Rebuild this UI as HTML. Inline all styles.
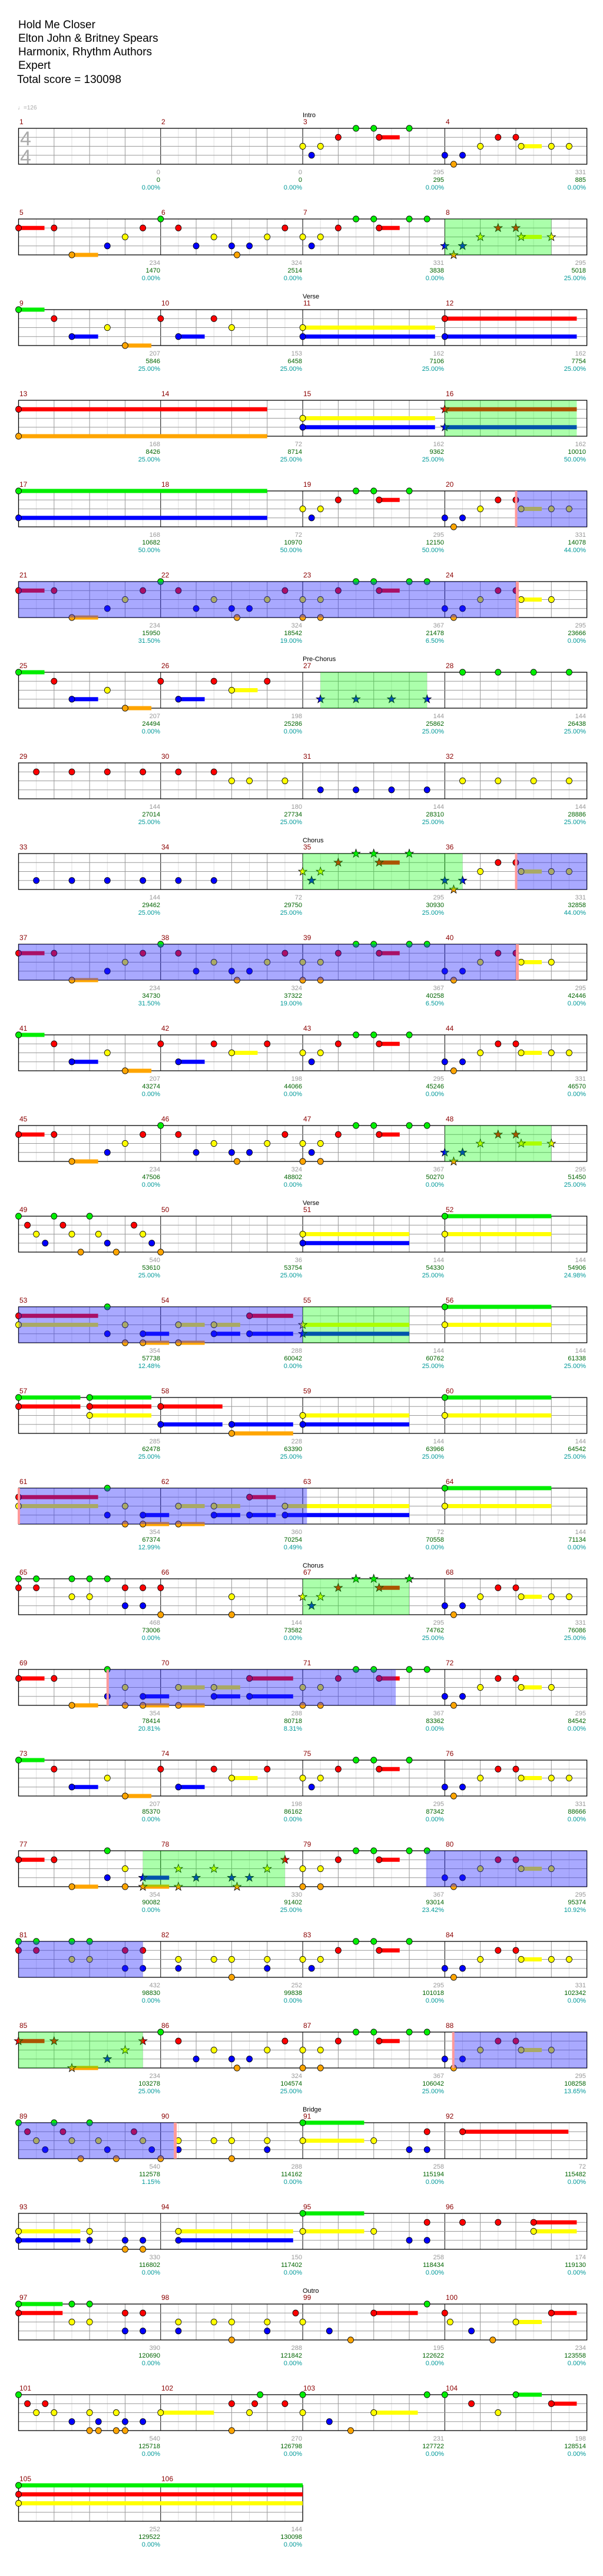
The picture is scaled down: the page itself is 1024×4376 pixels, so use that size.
<!DOCTYPE html>
<html><head><meta charset="utf-8">
<style>
html,body{margin:0;padding:0;background:#fff;}
svg{display:block;}
text{font-family:"Liberation Sans",sans-serif;}
.t{font-size:19px;fill:#000;}
.mn{font-size:12px;fill:#8b0000;}
.sec{font-size:11px;fill:#000;}
.a{font-size:11px;fill:#999;text-anchor:end;}
.b{font-size:11px;fill:#006400;text-anchor:end;}
.c{font-size:11px;fill:#009999;text-anchor:end;}
</style></head><body>
<svg id="s" xmlns="http://www.w3.org/2000/svg" width="1024" height="4376" viewBox="0 0 1024 4376">
<rect width="1024" height="4376" fill="#fff"/>
<g id="gfx"></g>
<g id="txt">
<text class="t" x="31" y="48">Hold Me Closer</text>
<text class="t" x="31" y="71">Elton John &amp; Britney Spears</text>
<text class="t" x="31" y="94">Harmonix, Rhythm Authors</text>
<text class="t" x="31" y="117">Expert</text>
<text class="t" x="29" y="141">Total score = 130098</text>
<text x="30" y="186" style="font-size:10px;fill:#aaa">♩=126</text>
<text x="34" y="247" style="font-size:34px;fill:#aaa">4</text>
<text x="34" y="278" style="font-size:34px;fill:#aaa">4</text>
<text class="sec" x="514" y="199">Intro</text>
<text class="sec" x="514" y="507">Verse</text>
<text class="sec" x="514" y="1123">Pre-Chorus</text>
<text class="sec" x="514" y="1431">Chorus</text>
<text class="sec" x="514" y="2047">Verse</text>
<text class="sec" x="514" y="2663">Chorus</text>
<text class="sec" x="514" y="3587">Bridge</text>
<text class="sec" x="514" y="3895">Outro</text>

<g transform="translate(0,0)"><text class="mn" x="33" y="211">1</text><text class="mn" x="274" y="211">2</text><text class="mn" x="515" y="211">3</text><text class="mn" x="757" y="211">4</text>
<text class="a" x="272" y="296">0</text><text class="b" x="272" y="309">0</text><text class="c" x="272" y="322">0.00%</text>
<text class="a" x="513" y="296">0</text><text class="b" x="513" y="309">0</text><text class="c" x="513" y="322">0.00%</text>
<text class="a" x="754" y="296">295</text><text class="b" x="754" y="309">295</text><text class="c" x="754" y="322">0.00%</text>
<text class="a" x="995" y="296">331</text><text class="b" x="995" y="309">885</text><text class="c" x="995" y="322">0.00%</text></g>

<g transform="translate(0,154)"><text class="mn" x="33" y="211">5</text><text class="mn" x="274" y="211">6</text><text class="mn" x="515" y="211">7</text><text class="mn" x="757" y="211">8</text>
<text class="a" x="272" y="296">234</text><text class="b" x="272" y="309">1470</text><text class="c" x="272" y="322">0.00%</text>
<text class="a" x="513" y="296">324</text><text class="b" x="513" y="309">2514</text><text class="c" x="513" y="322">0.00%</text>
<text class="a" x="754" y="296">331</text><text class="b" x="754" y="309">3838</text><text class="c" x="754" y="322">0.00%</text>
<text class="a" x="995" y="296">295</text><text class="b" x="995" y="309">5018</text><text class="c" x="995" y="322">25.00%</text></g>

<g transform="translate(0,308)"><text class="mn" x="33" y="211">9</text><text class="mn" x="274" y="211">10</text><text class="mn" x="515" y="211">11</text><text class="mn" x="757" y="211">12</text>
<text class="a" x="272" y="296">207</text><text class="b" x="272" y="309">5846</text><text class="c" x="272" y="322">25.00%</text>
<text class="a" x="513" y="296">153</text><text class="b" x="513" y="309">6458</text><text class="c" x="513" y="322">25.00%</text>
<text class="a" x="754" y="296">162</text><text class="b" x="754" y="309">7106</text><text class="c" x="754" y="322">25.00%</text>
<text class="a" x="995" y="296">162</text><text class="b" x="995" y="309">7754</text><text class="c" x="995" y="322">25.00%</text></g>

<g transform="translate(0,462)"><text class="mn" x="33" y="211">13</text><text class="mn" x="274" y="211">14</text><text class="mn" x="515" y="211">15</text><text class="mn" x="757" y="211">16</text>
<text class="a" x="272" y="296">168</text><text class="b" x="272" y="309">8426</text><text class="c" x="272" y="322">25.00%</text>
<text class="a" x="513" y="296">72</text><text class="b" x="513" y="309">8714</text><text class="c" x="513" y="322">25.00%</text>
<text class="a" x="754" y="296">162</text><text class="b" x="754" y="309">9362</text><text class="c" x="754" y="322">25.00%</text>
<text class="a" x="995" y="296">162</text><text class="b" x="995" y="309">10010</text><text class="c" x="995" y="322">50.00%</text></g>

<g transform="translate(0,616)"><text class="mn" x="33" y="211">17</text><text class="mn" x="274" y="211">18</text><text class="mn" x="515" y="211">19</text><text class="mn" x="757" y="211">20</text>
<text class="a" x="272" y="296">168</text><text class="b" x="272" y="309">10682</text><text class="c" x="272" y="322">50.00%</text>
<text class="a" x="513" y="296">72</text><text class="b" x="513" y="309">10970</text><text class="c" x="513" y="322">50.00%</text>
<text class="a" x="754" y="296">295</text><text class="b" x="754" y="309">12150</text><text class="c" x="754" y="322">50.00%</text>
<text class="a" x="995" y="296">331</text><text class="b" x="995" y="309">14078</text><text class="c" x="995" y="322">44.00%</text></g>

<g transform="translate(0,770)"><text class="mn" x="33" y="211">21</text><text class="mn" x="274" y="211">22</text><text class="mn" x="515" y="211">23</text><text class="mn" x="757" y="211">24</text>
<text class="a" x="272" y="296">234</text><text class="b" x="272" y="309">15950</text><text class="c" x="272" y="322">31.50%</text>
<text class="a" x="513" y="296">324</text><text class="b" x="513" y="309">18542</text><text class="c" x="513" y="322">19.00%</text>
<text class="a" x="754" y="296">367</text><text class="b" x="754" y="309">21478</text><text class="c" x="754" y="322">6.50%</text>
<text class="a" x="995" y="296">295</text><text class="b" x="995" y="309">23666</text><text class="c" x="995" y="322">0.00%</text></g>

<g transform="translate(0,924)"><text class="mn" x="33" y="211">25</text><text class="mn" x="274" y="211">26</text><text class="mn" x="515" y="211">27</text><text class="mn" x="757" y="211">28</text>
<text class="a" x="272" y="296">207</text><text class="b" x="272" y="309">24494</text><text class="c" x="272" y="322">0.00%</text>
<text class="a" x="513" y="296">198</text><text class="b" x="513" y="309">25286</text><text class="c" x="513" y="322">0.00%</text>
<text class="a" x="754" y="296">144</text><text class="b" x="754" y="309">25862</text><text class="c" x="754" y="322">25.00%</text>
<text class="a" x="995" y="296">144</text><text class="b" x="995" y="309">26438</text><text class="c" x="995" y="322">25.00%</text></g>

<g transform="translate(0,1078)"><text class="mn" x="33" y="211">29</text><text class="mn" x="274" y="211">30</text><text class="mn" x="515" y="211">31</text><text class="mn" x="757" y="211">32</text>
<text class="a" x="272" y="296">144</text><text class="b" x="272" y="309">27014</text><text class="c" x="272" y="322">25.00%</text>
<text class="a" x="513" y="296">180</text><text class="b" x="513" y="309">27734</text><text class="c" x="513" y="322">25.00%</text>
<text class="a" x="754" y="296">144</text><text class="b" x="754" y="309">28310</text><text class="c" x="754" y="322">25.00%</text>
<text class="a" x="995" y="296">144</text><text class="b" x="995" y="309">28886</text><text class="c" x="995" y="322">25.00%</text></g>

<g transform="translate(0,1232)"><text class="mn" x="33" y="211">33</text><text class="mn" x="274" y="211">34</text><text class="mn" x="515" y="211">35</text><text class="mn" x="757" y="211">36</text>
<text class="a" x="272" y="296">144</text><text class="b" x="272" y="309">29462</text><text class="c" x="272" y="322">25.00%</text>
<text class="a" x="513" y="296">72</text><text class="b" x="513" y="309">29750</text><text class="c" x="513" y="322">25.00%</text>
<text class="a" x="754" y="296">295</text><text class="b" x="754" y="309">30930</text><text class="c" x="754" y="322">25.00%</text>
<text class="a" x="995" y="296">331</text><text class="b" x="995" y="309">32858</text><text class="c" x="995" y="322">44.00%</text></g>

<g transform="translate(0,1386)"><text class="mn" x="33" y="211">37</text><text class="mn" x="274" y="211">38</text><text class="mn" x="515" y="211">39</text><text class="mn" x="757" y="211">40</text>
<text class="a" x="272" y="296">234</text><text class="b" x="272" y="309">34730</text><text class="c" x="272" y="322">31.50%</text>
<text class="a" x="513" y="296">324</text><text class="b" x="513" y="309">37322</text><text class="c" x="513" y="322">19.00%</text>
<text class="a" x="754" y="296">367</text><text class="b" x="754" y="309">40258</text><text class="c" x="754" y="322">6.50%</text>
<text class="a" x="995" y="296">295</text><text class="b" x="995" y="309">42446</text><text class="c" x="995" y="322">0.00%</text></g>

<g transform="translate(0,1540)"><text class="mn" x="33" y="211">41</text><text class="mn" x="274" y="211">42</text><text class="mn" x="515" y="211">43</text><text class="mn" x="757" y="211">44</text>
<text class="a" x="272" y="296">207</text><text class="b" x="272" y="309">43274</text><text class="c" x="272" y="322">0.00%</text>
<text class="a" x="513" y="296">198</text><text class="b" x="513" y="309">44066</text><text class="c" x="513" y="322">0.00%</text>
<text class="a" x="754" y="296">295</text><text class="b" x="754" y="309">45246</text><text class="c" x="754" y="322">0.00%</text>
<text class="a" x="995" y="296">331</text><text class="b" x="995" y="309">46570</text><text class="c" x="995" y="322">0.00%</text></g>

<g transform="translate(0,1694)"><text class="mn" x="33" y="211">45</text><text class="mn" x="274" y="211">46</text><text class="mn" x="515" y="211">47</text><text class="mn" x="757" y="211">48</text>
<text class="a" x="272" y="296">234</text><text class="b" x="272" y="309">47506</text><text class="c" x="272" y="322">0.00%</text>
<text class="a" x="513" y="296">324</text><text class="b" x="513" y="309">48802</text><text class="c" x="513" y="322">0.00%</text>
<text class="a" x="754" y="296">367</text><text class="b" x="754" y="309">50270</text><text class="c" x="754" y="322">0.00%</text>
<text class="a" x="995" y="296">295</text><text class="b" x="995" y="309">51450</text><text class="c" x="995" y="322">25.00%</text></g>

<g transform="translate(0,1848)"><text class="mn" x="33" y="211">49</text><text class="mn" x="274" y="211">50</text><text class="mn" x="515" y="211">51</text><text class="mn" x="757" y="211">52</text>
<text class="a" x="272" y="296">540</text><text class="b" x="272" y="309">53610</text><text class="c" x="272" y="322">25.00%</text>
<text class="a" x="513" y="296">36</text><text class="b" x="513" y="309">53754</text><text class="c" x="513" y="322">25.00%</text>
<text class="a" x="754" y="296">144</text><text class="b" x="754" y="309">54330</text><text class="c" x="754" y="322">25.00%</text>
<text class="a" x="995" y="296">144</text><text class="b" x="995" y="309">54906</text><text class="c" x="995" y="322">24.98%</text></g>

<g transform="translate(0,2002)"><text class="mn" x="33" y="211">53</text><text class="mn" x="274" y="211">54</text><text class="mn" x="515" y="211">55</text><text class="mn" x="757" y="211">56</text>
<text class="a" x="272" y="296">354</text><text class="b" x="272" y="309">57738</text><text class="c" x="272" y="322">12.48%</text>
<text class="a" x="513" y="296">288</text><text class="b" x="513" y="309">60042</text><text class="c" x="513" y="322">0.00%</text>
<text class="a" x="754" y="296">144</text><text class="b" x="754" y="309">60762</text><text class="c" x="754" y="322">25.00%</text>
<text class="a" x="995" y="296">144</text><text class="b" x="995" y="309">61338</text><text class="c" x="995" y="322">25.00%</text></g>

<g transform="translate(0,2156)"><text class="mn" x="33" y="211">57</text><text class="mn" x="274" y="211">58</text><text class="mn" x="515" y="211">59</text><text class="mn" x="757" y="211">60</text>
<text class="a" x="272" y="296">285</text><text class="b" x="272" y="309">62478</text><text class="c" x="272" y="322">25.00%</text>
<text class="a" x="513" y="296">228</text><text class="b" x="513" y="309">63390</text><text class="c" x="513" y="322">25.00%</text>
<text class="a" x="754" y="296">144</text><text class="b" x="754" y="309">63966</text><text class="c" x="754" y="322">25.00%</text>
<text class="a" x="995" y="296">144</text><text class="b" x="995" y="309">64542</text><text class="c" x="995" y="322">25.00%</text></g>

<g transform="translate(0,2310)"><text class="mn" x="33" y="211">61</text><text class="mn" x="274" y="211">62</text><text class="mn" x="515" y="211">63</text><text class="mn" x="757" y="211">64</text>
<text class="a" x="272" y="296">354</text><text class="b" x="272" y="309">67374</text><text class="c" x="272" y="322">12.99%</text>
<text class="a" x="513" y="296">360</text><text class="b" x="513" y="309">70254</text><text class="c" x="513" y="322">0.49%</text>
<text class="a" x="754" y="296">72</text><text class="b" x="754" y="309">70558</text><text class="c" x="754" y="322">0.00%</text>
<text class="a" x="995" y="296">144</text><text class="b" x="995" y="309">71134</text><text class="c" x="995" y="322">0.00%</text></g>

<g transform="translate(0,2464)"><text class="mn" x="33" y="211">65</text><text class="mn" x="274" y="211">66</text><text class="mn" x="515" y="211">67</text><text class="mn" x="757" y="211">68</text>
<text class="a" x="272" y="296">468</text><text class="b" x="272" y="309">73006</text><text class="c" x="272" y="322">0.00%</text>
<text class="a" x="513" y="296">144</text><text class="b" x="513" y="309">73582</text><text class="c" x="513" y="322">0.00%</text>
<text class="a" x="754" y="296">295</text><text class="b" x="754" y="309">74762</text><text class="c" x="754" y="322">25.00%</text>
<text class="a" x="995" y="296">331</text><text class="b" x="995" y="309">76086</text><text class="c" x="995" y="322">25.00%</text></g>

<g transform="translate(0,2618)"><text class="mn" x="33" y="211">69</text><text class="mn" x="274" y="211">70</text><text class="mn" x="515" y="211">71</text><text class="mn" x="757" y="211">72</text>
<text class="a" x="272" y="296">354</text><text class="b" x="272" y="309">78414</text><text class="c" x="272" y="322">20.81%</text>
<text class="a" x="513" y="296">288</text><text class="b" x="513" y="309">80718</text><text class="c" x="513" y="322">8.31%</text>
<text class="a" x="754" y="296">367</text><text class="b" x="754" y="309">83362</text><text class="c" x="754" y="322">0.00%</text>
<text class="a" x="995" y="296">295</text><text class="b" x="995" y="309">84542</text><text class="c" x="995" y="322">0.00%</text></g>

<g transform="translate(0,2772)"><text class="mn" x="33" y="211">73</text><text class="mn" x="274" y="211">74</text><text class="mn" x="515" y="211">75</text><text class="mn" x="757" y="211">76</text>
<text class="a" x="272" y="296">207</text><text class="b" x="272" y="309">85370</text><text class="c" x="272" y="322">0.00%</text>
<text class="a" x="513" y="296">198</text><text class="b" x="513" y="309">86162</text><text class="c" x="513" y="322">0.00%</text>
<text class="a" x="754" y="296">295</text><text class="b" x="754" y="309">87342</text><text class="c" x="754" y="322">0.00%</text>
<text class="a" x="995" y="296">331</text><text class="b" x="995" y="309">88666</text><text class="c" x="995" y="322">0.00%</text></g>

<g transform="translate(0,2926)"><text class="mn" x="33" y="211">77</text><text class="mn" x="274" y="211">78</text><text class="mn" x="515" y="211">79</text><text class="mn" x="757" y="211">80</text>
<text class="a" x="272" y="296">354</text><text class="b" x="272" y="309">90082</text><text class="c" x="272" y="322">0.00%</text>
<text class="a" x="513" y="296">330</text><text class="b" x="513" y="309">91402</text><text class="c" x="513" y="322">25.00%</text>
<text class="a" x="754" y="296">367</text><text class="b" x="754" y="309">93014</text><text class="c" x="754" y="322">23.42%</text>
<text class="a" x="995" y="296">295</text><text class="b" x="995" y="309">95374</text><text class="c" x="995" y="322">10.92%</text></g>

<g transform="translate(0,3080)"><text class="mn" x="33" y="211">81</text><text class="mn" x="274" y="211">82</text><text class="mn" x="515" y="211">83</text><text class="mn" x="757" y="211">84</text>
<text class="a" x="272" y="296">432</text><text class="b" x="272" y="309">98830</text><text class="c" x="272" y="322">0.00%</text>
<text class="a" x="513" y="296">252</text><text class="b" x="513" y="309">99838</text><text class="c" x="513" y="322">0.00%</text>
<text class="a" x="754" y="296">295</text><text class="b" x="754" y="309">101018</text><text class="c" x="754" y="322">0.00%</text>
<text class="a" x="995" y="296">331</text><text class="b" x="995" y="309">102342</text><text class="c" x="995" y="322">0.00%</text></g>

<g transform="translate(0,3234)"><text class="mn" x="33" y="211">85</text><text class="mn" x="274" y="211">86</text><text class="mn" x="515" y="211">87</text><text class="mn" x="757" y="211">88</text>
<text class="a" x="272" y="296">234</text><text class="b" x="272" y="309">103278</text><text class="c" x="272" y="322">25.00%</text>
<text class="a" x="513" y="296">324</text><text class="b" x="513" y="309">104574</text><text class="c" x="513" y="322">25.00%</text>
<text class="a" x="754" y="296">367</text><text class="b" x="754" y="309">106042</text><text class="c" x="754" y="322">25.00%</text>
<text class="a" x="995" y="296">295</text><text class="b" x="995" y="309">108258</text><text class="c" x="995" y="322">13.65%</text></g>

<g transform="translate(0,3388)"><text class="mn" x="33" y="211">89</text><text class="mn" x="274" y="211">90</text><text class="mn" x="515" y="211">91</text><text class="mn" x="757" y="211">92</text>
<text class="a" x="272" y="296">540</text><text class="b" x="272" y="309">112578</text><text class="c" x="272" y="322">1.15%</text>
<text class="a" x="513" y="296">288</text><text class="b" x="513" y="309">114162</text><text class="c" x="513" y="322">0.00%</text>
<text class="a" x="754" y="296">258</text><text class="b" x="754" y="309">115194</text><text class="c" x="754" y="322">0.00%</text>
<text class="a" x="995" y="296">72</text><text class="b" x="995" y="309">115482</text><text class="c" x="995" y="322">0.00%</text></g>

<g transform="translate(0,3542)"><text class="mn" x="33" y="211">93</text><text class="mn" x="274" y="211">94</text><text class="mn" x="515" y="211">95</text><text class="mn" x="757" y="211">96</text>
<text class="a" x="272" y="296">330</text><text class="b" x="272" y="309">116802</text><text class="c" x="272" y="322">0.00%</text>
<text class="a" x="513" y="296">150</text><text class="b" x="513" y="309">117402</text><text class="c" x="513" y="322">0.00%</text>
<text class="a" x="754" y="296">258</text><text class="b" x="754" y="309">118434</text><text class="c" x="754" y="322">0.00%</text>
<text class="a" x="995" y="296">174</text><text class="b" x="995" y="309">119130</text><text class="c" x="995" y="322">0.00%</text></g>

<g transform="translate(0,3696)"><text class="mn" x="33" y="211">97</text><text class="mn" x="274" y="211">98</text><text class="mn" x="515" y="211">99</text><text class="mn" x="757" y="211">100</text>
<text class="a" x="272" y="296">390</text><text class="b" x="272" y="309">120690</text><text class="c" x="272" y="322">0.00%</text>
<text class="a" x="513" y="296">288</text><text class="b" x="513" y="309">121842</text><text class="c" x="513" y="322">0.00%</text>
<text class="a" x="754" y="296">195</text><text class="b" x="754" y="309">122622</text><text class="c" x="754" y="322">0.00%</text>
<text class="a" x="995" y="296">234</text><text class="b" x="995" y="309">123558</text><text class="c" x="995" y="322">0.00%</text></g>

<g transform="translate(0,3850)"><text class="mn" x="33" y="211">101</text><text class="mn" x="274" y="211">102</text><text class="mn" x="515" y="211">103</text><text class="mn" x="757" y="211">104</text>
<text class="a" x="272" y="296">540</text><text class="b" x="272" y="309">125718</text><text class="c" x="272" y="322">0.00%</text>
<text class="a" x="513" y="296">270</text><text class="b" x="513" y="309">126798</text><text class="c" x="513" y="322">0.00%</text>
<text class="a" x="754" y="296">231</text><text class="b" x="754" y="309">127722</text><text class="c" x="754" y="322">0.00%</text>
<text class="a" x="995" y="296">198</text><text class="b" x="995" y="309">128514</text><text class="c" x="995" y="322">0.00%</text></g>

<g transform="translate(0,4004)"><text class="mn" x="33" y="211">105</text><text class="mn" x="274" y="211">106</text>
<text class="a" x="272" y="296">252</text><text class="b" x="272" y="309">129522</text><text class="c" x="272" y="322">0.00%</text>
<text class="a" x="513" y="296">144</text><text class="b" x="513" y="309">130098</text><text class="c" x="513" y="322">0.00%</text></g>
</g>
</svg>
<script>
(function(){
var NS="http://www.w3.org/2000/svg";
var gfx=document.getElementById("gfx");
var X0=31.5,S=30.16,LY=[218,233.25,248.5,263.75,279];
var COL={G:"#00ee00",R:"#ff0000",Y:"#ffff00",B:"#0000ff",O:"#ffa500"};
var LN={G:0,R:1,Y:2,B:3,O:4};
function el(n,a){var e=document.createElementNS(NS,n);for(var k in a)e.setAttribute(k,a[k]);gfx.appendChild(e);return e;}
var R5="G8 G19 G20 G22 G23 R0-1.46 R2 R7 R9 R15 R18 R20.3-21.46 R27 R28 Y6 Y11 Y14 Y16 Y17 Y26 Y28.3-29.46 Y30 B5 B10 B12 B13 B24 B25 O3-4.48 O12.3 O16 O17 O24.5";
var R10="G0-1.46 G19 G20 G22 R2 R8 R11 R14 R18 R20.3-21.46 R27 R28 Y5 Y12-13.46 Y16 Y17 Y26 Y28.3-29.46 Y30 Y31 B3-4.48 B9-10.48 B16.5 B24 B25 O6-7.48 O24.5";
var R1="G8 G19 G20 G22 G23 R0-1.46 R2 R7 R9 R15 R18 R20.3-21.46 *R27 *R28 Y6 Y11 Y14 Y16 Y17 *Y26 *Y28.3-29.46 *Y30 B5 B10 B12 B13 B16.5 *B24 *B25 O3-4.48 O12.3 *O24.5";
var rows=[
["G19 G20 G22 R18 R20.3-21.46 R27 R28 Y16 Y17 Y26 Y28.3-29.46 Y30 Y31 B16.5 B24 B25 O24.5",[],[]],
[R1,[[24,30]],[]],
["G0-1.46 R2 R8 R11 R24-31.43 Y5 Y12 Y16-23.45 B3-4.48 B9-10.48 B16-23.45 B24-31.43 O6-7.48",[],[]],
["R0-14 *R24-31.43 Y16-23.45 B16-23.45 *B24-31.43 O0-14",[[24,31.43]],[]],
["G0-14 G19 G20 G22 R18 R20.3-21.46 R27 R28 Y16 Y17 Y26 Y28.3-29.46 Y30 Y31 B0-14 B16.5 B24 B25 O24.5",[],[[28,32,1,0]]],
[R5,[],[[0,28,0,1]]],
["G0-1.46 G25 G27 G29 G31 R2 R8 R11 R14 Y5 Y12-13.46 B3-4.48 B9-10.48 *B17 *B19 *B21 *B23 O6-7.48",[[17,23]],[]],
["R1 R3 R5 R7 R9 R11 Y12 Y13 Y15 Y25 Y27 Y29 Y31 B17 B19 B21 B23",[],[]],
["B1 B3 B5 B7 B9 B11 *B16.5 *B24 *B25 *G19 *G20 *G22 *R18 *R20.3-21.46 *Y16 *Y17 *O24.5 Y26 R27 R28 Y28.3-29.46 Y30 Y31",[[16,25]],[[28,32,1,0]]],
[R5,[],[[0,28,0,1]]],
[R10,[],[]],
[R1+" O16 O17",[[24,30]],[]],
["G0 G2 G4 G24-30 R0.5 R2.5 R6.5 Y1 Y3 Y4.5 Y7 Y16-22 Y24-30 B1.5 B5 B7.5 B16-22 O3.5 O5.5 O8",[],[]],
["G5 G24-30 R0-4.48 R13-15.46 Y0-4.48 Y6 Y9-10.48 Y11-12.48 *Y16-22 Y24-30 B5 B7-8.48 B11-12.48 B13-15.46 *B16-22 O6 O7-8.48 O9-10.48",[[16,22]],[[0,16,0,0]]],
["G0-3.48 G4-7.48 G24-30 R0-3.48 R4-7.48 R8-11.48 Y4-7.48 Y16-22 Y24-30 B8-11.48 B12-15.46 B16-22 O12-15.46",[],[]],
["G5 G24-30 R0-4.48 R13-14.48 Y0-4.48 Y6 Y9-10.48 Y11-12.48 Y15-22 Y24-30 B5 B7-8.48 B11-12.48 B13-14.48 B15-22 O6 O7-8.48 O9-10.48",[],[[0,16.24,1,0]]],
["G0 G1 G3 G4 G5 *G19 *G20 *G22 R0 R1 R6 R7 R8 *R18 *R20.3-21.46 R27 R28 Y3 Y4 Y12 *Y16 *Y17 Y26 Y28.3-29.46 Y30 Y31 B6 B7 *B16.5 B24 B25 O8 O12 O24.5",[[16,22]],[]],
["G5 G19 G20 G22 G23 R0-1.46 R2 R13-15.46 R18 R20.3-21.46 R27 R28 Y6 Y9-10.48 Y11-12.48 Y16 Y17 Y26 Y28.3-29.46 Y30 B5 B7-8.48 B11-12.48 B13-15.46 B24 B25 O3-4.48 O6 O7-8.48 O9-10.48 O16 O17 O24.5",[],[[5,21.24,1,0]]],
[R10,[],[]],
["G5 G19 G20 G22 G23 R0-1.46 R2 *R15 R18 R20.3-21.46 R27 R28 Y6 *Y9 *Y11 *Y14 Y16 Y17 Y26 Y28.3-29.46 Y30 B5 *B7-8.48 *B10 *B12 *B13 B24 B25 O3-4.48 O6 *O7-8.48 *O9 *O12.3 O16 O17 O24.5",[[7,15]],[[22.95,32,0,0]]],
["G0 G1 G3 G4 G19 G20 G22 R0 R1 R6 R7 R18 R20.3-21.46 R27 R28 Y3 Y4 Y9 Y11 Y12 Y14 Y16 Y17 Y26 Y28.3-29.46 Y30 Y31 B6 B7 B9 B14 B16.5 B24 B25 O12 O24.5",[],[[0,7,0,0]]],
["G8 G19 G20 G22 G23 *R0-1.46 *R2 *R7 R9 R15 R18 R20.3-21.46 R27 R28 *Y6 Y11 Y14 Y16 Y17 Y26 Y28.3-29.46 Y30 *B5 B10 B12 B13 B24 B25 *O3-4.48 O12.3 O16 O17 O24.5",[[0,7]],[[24.46,32,1,0]]],
["G0 G2 G4 G16-19.46 R0.5 R2.5 R6.5 R23 R25-30.96 Y1 Y3 Y4.5 Y7 Y9 Y11 Y12 Y14 Y16-19.46 Y20 B1.5 B5 B7.5 B9 B14 B22 B23 O3.5 O5.5 O8 O12",[],[[0,8.74,0,1]]],
["G16-19.46 R23 R25 R27 R29-31.43 Y0-3.48 Y4 Y9-15.46 Y16-19.46 Y20 Y29-31.43 B0-3.48 B4 B6 B7 B9-15.46 B22 B23 O6 O7",[],[]],
["G0-2.48 G3 G4 G23 R0-2.48 R6 R7 R15.6 R20-22.48 R24 R30-31.43 Y3 Y4 Y9 Y11 Y12 Y14 Y16 Y24.3 Y28-29.46 B6 B7 B9 B14 B17.5 B25.5 O12 O18.7 O26.7",[],[]],
["G0 G13.6 G16 G23 G24 G28-29.46 R0.5 R1.5 R12 R13.3 R15 R25.5 R30-31.43 Y1 Y2 Y4 Y5.5 Y8-11 Y13 Y16 Y20-22.48 Y27 B3 B4.5 B6 B7 B17.5 O4 O4.5 O5.5 O6 O12 O18.7",[],[]],
["G0-16 R0-16 Y0-16",[],[]]
];
function star(cx,cy,fill){var p=[];for(var i=0;i<10;i++){var r=i%2?3:7.5,a=-Math.PI/2+i*Math.PI/5;p.push((cx+r*Math.cos(a)).toFixed(1)+","+(cy+r*Math.sin(a)).toFixed(1));}
el("polygon",{points:p.join(" "),fill:fill,stroke:"#000","stroke-width":"0.8"});}
for(var k=0;k<rows.length;k++){
 var oy=154*k, nm=(k==26)?2:4, n8=nm*8, xr=X0+n8*S, top=oy+LY[0], bot=oy+LY[4];
 el("rect",{x:X0,y:top,width:n8*S,height:bot-top,fill:"#fff"});
 for(var i=1;i<n8;i++){var x=X0+i*S;el("line",{x1:x,y1:top,x2:x,y2:bot,stroke:(i%8==0)?"#000":(i%2==0?"#999":"#e0e0e0"),"stroke-width":"1"});}
 for(var l=1;l<4;l++)el("line",{x1:X0,y1:oy+LY[l],x2:xr,y2:oy+LY[l],stroke:"#999","stroke-width":"1"});
 el("rect",{x:X0,y:top,width:n8*S,height:bot-top,fill:"none",stroke:"#000","stroke-width":"1.3"});
 var toks=rows[k][0].split(" "),notes=[];
 toks.forEach(function(t){var m=t.match(/^(\*?)([GRYBO])([\d.]+)(?:-([\d.]+))?$/);if(!m)return;notes.push({s:!!m[1],c:m[2],p:+m[3],e:m[4]?+m[4]:null});});
 notes.forEach(function(n){if(n.e!==null){var y=oy+LY[LN[n.c]];el("rect",{x:X0+n.p*S,y:y-3.5,width:(n.e-n.p)*S,height:7,fill:COL[n.c]});}});
 notes.forEach(function(n){var x=X0+n.p*S,y=oy+LY[LN[n.c]];if(n.s)star(x,y,COL[n.c]);else el("ellipse",{cx:x,cy:y,rx:5,ry:5.2,fill:COL[n.c],stroke:"#000","stroke-width":"0.8"});});
 rows[k][1].forEach(function(g){el("rect",{x:X0+g[0]*S,y:top,width:(g[1]-g[0])*S,height:bot-top,fill:"rgba(0,255,0,0.33)"});});
 rows[k][2].forEach(function(b){var x1=X0+b[0]*S,x2=Math.min(X0+b[1]*S,xr);el("rect",{x:x1,y:top,width:x2-x1,height:bot-top,fill:"rgba(40,40,255,0.4)"});
  if(b[2])el("rect",{x:x1-1.5,y:top,width:4,height:bot-top,fill:"#ff9999"});
  if(b[3])el("rect",{x:x2,y:top,width:5,height:bot-top,fill:"#ff9999"});});
}
})();
</script>
</body></html>
